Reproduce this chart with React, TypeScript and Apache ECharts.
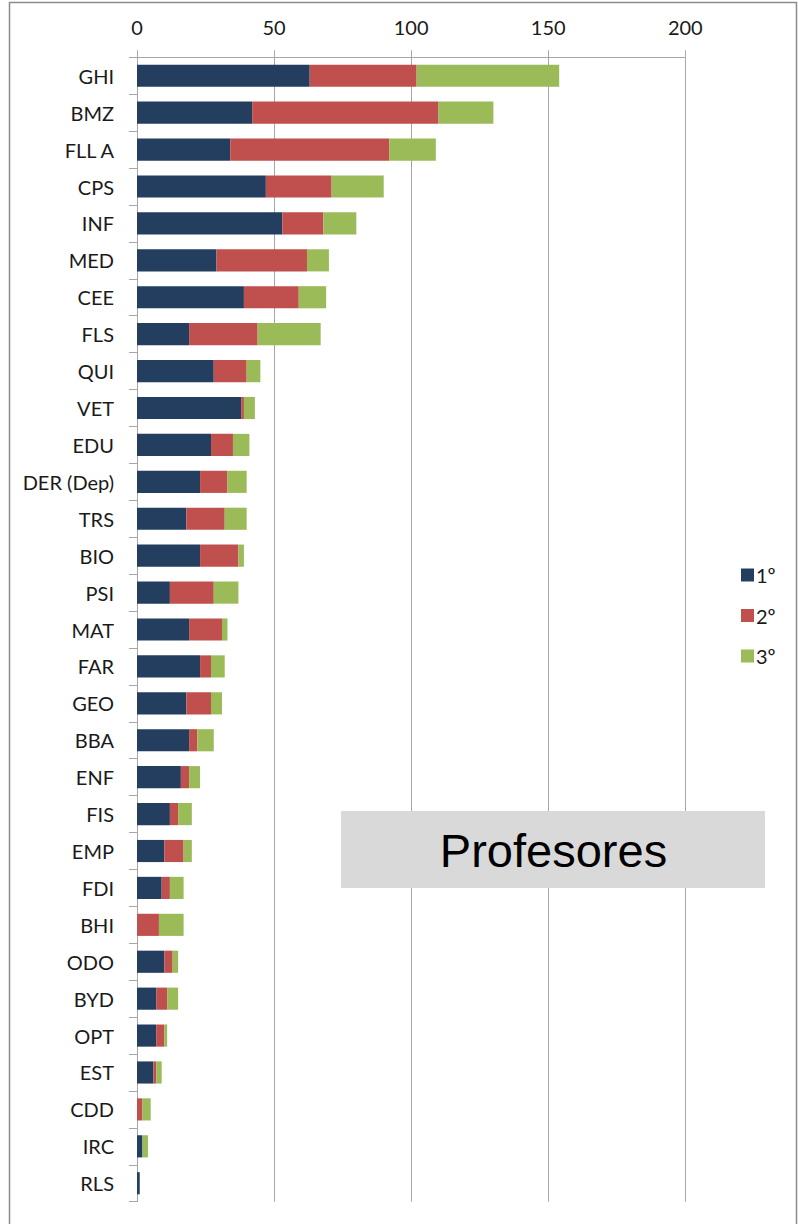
import React, { useEffect, useRef } from "react";
import * as echarts from "echarts";

const categories = [
  "GHI", "BMZ", "FLL A", "CPS", "INF", "MED", "CEE", "FLS", "QUI", "VET",
  "EDU", "DER (Dep)", "TRS", "BIO", "PSI", "MAT", "FAR", "GEO", "BBA", "ENF",
  "FIS", "EMP", "FDI", "BHI", "ODO", "BYD", "OPT", "EST", "CDD", "IRC", "RLS",
];
const first = [63, 42, 34, 47, 53, 29, 39, 19, 28, 38, 27, 23, 18, 23, 12, 19, 23, 18, 19, 16, 12, 10, 9, 0, 10, 7, 7, 6, 0, 2, 1];
const second = [39, 68, 58, 24, 15, 33, 20, 25, 12, 1, 8, 10, 14, 14, 16, 12, 4, 9, 3, 3, 3, 7, 3, 8, 3, 4, 3, 1, 2, 0, 0];
const third = [52, 20, 17, 19, 12, 8, 10, 23, 5, 4, 6, 7, 8, 2, 9, 2, 5, 4, 6, 4, 5, 3, 5, 9, 2, 4, 1, 2, 3, 2, 0];
const seriesNames = ["1º", "2º", "3º"];
const xTicks = { min: 0, max: 200, interval: 50 };
const title = "Profesores";

const FONT = "Lato, 'Open Sans', sans-serif";
const GRID_COLOR = "#a6a6a6";

export default function App() {
  const ref = useRef<HTMLDivElement>(null);
  useEffect(() => {
    if (!ref.current) return;
    const chart = echarts.init(ref.current, null, { renderer: "svg" });
    const colors = ["#243E60", "#C0504D", "#9BBB59"];
    const data = [first, second, third];
    chart.setOption({
      animation: false,
      backgroundColor: "#ffffff",
      grid: { left: 137, top: 57.3, width: 548.3, height: 1144.4, containLabel: false },
      legend: {
        orient: "vertical",
        left: 736,
        top: 560,
        itemWidth: 13,
        itemHeight: 13,
        itemGap: 20.5,
        icon: "rect",
        data: seriesNames,
        textStyle: { fontFamily: FONT, fontSize: 20, color: "#1a1a1a", lineHeight: 20, padding: [0, 0, 0, -3] },
      },
      xAxis: {
        type: "value",
        position: "top",
        min: xTicks.min,
        max: xTicks.max,
        interval: xTicks.interval,
        axisLine: { show: true, lineStyle: { color: GRID_COLOR, width: 1 } },
        axisTick: { show: true, length: 7, lineStyle: { color: GRID_COLOR } },
        axisLabel: { margin: 20, fontFamily: FONT, fontSize: 20, color: "#1a1a1a" },
        splitLine: { show: true, lineStyle: { color: GRID_COLOR, width: 1 } },
      },
      yAxis: {
        type: "category",
        inverse: true,
        data: categories,
        axisLine: { show: true, lineStyle: { color: GRID_COLOR, width: 1 } },
        axisTick: { show: true, length: 8, lineStyle: { color: GRID_COLOR } },
        axisLabel: { margin: 23, fontFamily: FONT, fontSize: 20, color: "#1a1a1a" },
        splitLine: { show: false },
      },
      series: seriesNames.map((name, i) => ({
        name,
        type: "bar",
        stack: "total",
        barWidth: "60%",
        data: data[i],
        itemStyle: { color: colors[i] },
      })),
      graphic: [
        {
          type: "rect",
          shape: { x: 9.5, y: 2.5, width: 787, height: 1240 },
          style: { fill: "none", stroke: "#8c8c8c", lineWidth: 1.5 },
          silent: true,
        },
        {
          type: "rect",
          shape: { x: 341, y: 811, width: 424, height: 77 },
          style: { fill: "#d9d9d9" },
          z: 10,
        },
        {
          type: "text",
          x: 553.5,
          y: 850,
          style: {
            text: title,
            fontFamily: "'Liberation Sans', Arial, sans-serif",
            fontSize: 47,
            fill: "#000",
            align: "center",
            verticalAlign: "middle",
          },
          z: 11,
        },
      ],
    });
    return () => chart.dispose();
  }, []);
  return (
    <div
      ref={ref}
      style={{ position: "fixed", left: 0, top: 0, width: 798, height: 1224 }}
    />
  );
}
